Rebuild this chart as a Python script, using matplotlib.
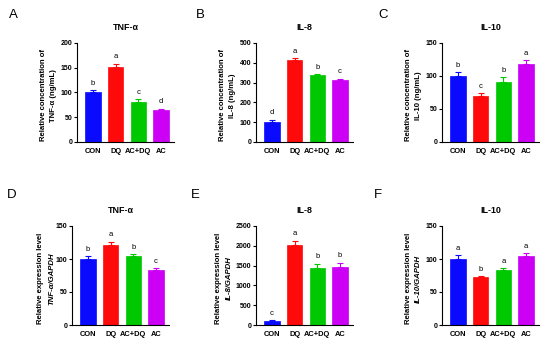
import matplotlib
matplotlib.use('Agg')
import matplotlib.pyplot as plt

plt.rcParams['font.family'] = ['Liberation Sans', 'DejaVu Sans']
plt.rcParams.update({
    'axes.spines.top': False,
    'axes.spines.right': False,
})

groups = ['CON', 'DQ', 'AC+DQ', 'AC']
bar_colors = ['#0a0aff', '#ff0a0a', '#00c800', '#cc00f5']

# panel data (top row: ELISA, bottom row: qPCR)
tnf_conc = [100, 152, 81, 65]
tnf_conc_err = [5, 6, 5, 2]
tnf_conc_sig = ['b', 'a', 'c', 'd']

il8_conc = [100, 415, 337, 315]
il8_conc_err = [13, 8, 4, 4]
il8_conc_sig = ['d', 'a', 'b', 'c']

il10_conc = [100, 69, 91, 118]
il10_conc_err = [6, 5, 7, 6]
il10_conc_sig = ['b', 'c', 'b', 'a']

tnf_expr = [100, 121, 104, 84]
tnf_expr_err = [4, 5, 3, 2]
tnf_expr_sig = ['b', 'a', 'b', 'c']

il8_expr = [90, 2030, 1450, 1470]
il8_expr_err = [25, 100, 100, 100]
il8_expr_sig = ['c', 'a', 'b', 'b']

il10_expr = [100, 72, 83, 105]
il10_expr_err = [6, 2, 3, 4]
il10_expr_sig = ['a', 'b', 'a', 'a']

panels = [
    # letter, title, values, errors, sig, ymax, ystep, ylabel lines, italic,
    # left px, top px, ylabel offset px
    ('A', 'TNF-α', tnf_conc, tnf_conc_err, tnf_conc_sig, 200, 50,
     'Relative concentration of', 'TNF-α (ng/mL)', False, 77, 43, 34),
    ('B', 'IL-8', il8_conc, il8_conc_err, il8_conc_sig, 500, 100,
     'Relative concentration of', 'IL-8 (ng/mL)', False, 256, 43, 34),
    ('C', 'IL-10', il10_conc, il10_conc_err, il10_conc_sig, 150, 50,
     'Relative concentration of', 'IL-10 (ng/mL)', False, 442, 43, 34),
    ('D', 'TNF-α', tnf_expr, tnf_expr_err, tnf_expr_sig, 150, 50,
     'Relative expression level', 'TNF-α/GAPDH', True, 72, 226, 31),
    ('E', 'IL-8', il8_expr, il8_expr_err, il8_expr_sig, 2500, 500,
     'Relative expression level', 'IL-8/GAPDH', True, 256, 226, 37),
    ('F', 'IL-10', il10_expr, il10_expr_err, il10_expr_sig, 150, 50,
     'Relative expression level', 'IL-10/GAPDH', True, 442, 226, 34),
]

W, H = 550, 345
fig = plt.figure(figsize=(5.5, 3.45), dpi=100)

for (letter, title, vals, errs, sig, ymax, ystep, yl1, yl2, italic,
     left, top, yoff) in panels:
    aw, ah = 97, 99
    ax = fig.add_axes([left / W, 1 - (top + ah) / H, aw / W, ah / H])
    x = range(len(groups))
    ax.bar(x, vals, width=0.68, color=bar_colors, edgecolor=bar_colors,
           linewidth=0.5, zorder=2)
    for i in x:
        ax.errorbar(i, vals[i], yerr=[[0], [errs[i]]], color=bar_colors[i],
                    capsize=2.5, elinewidth=0.8, capthick=0.8, zorder=3)
        ax.text(i, vals[i] + errs[i] + ymax * 0.035, sig[i], ha='center',
                va='bottom', fontsize=5.5)
    ax.set_xlim(-0.7, 3.57)
    ax.set_ylim(0, ymax)
    ax.set_yticks(range(0, ymax + 1, ystep))
    ax.set_xticks(list(x))
    ax.set_xticklabels(groups, fontsize=5.4, fontweight='bold')
    for lab in ax.get_yticklabels():
        lab.set_fontsize(5.0)
        lab.set_fontweight('bold')
    ax.tick_params(axis='both', length=2.2, width=0.8, pad=1.2)
    ax.tick_params(axis='x', length=0, pad=4.5)
    for s in ['left', 'bottom']:
        ax.spines[s].set_linewidth(0.8)

    ax.text(0.5, 1.16, title, transform=ax.transAxes, ha='center',
            va='center', fontsize=6.4, fontweight='bold')
    ax.text(-yoff / aw, 0.47, yl1, transform=ax.transAxes, rotation=90,
            ha='center', va='center', fontsize=5.6, fontweight='bold')
    ax.text(-(yoff - 10.5) / aw, 0.47, yl2, transform=ax.transAxes,
            rotation=90, ha='center', va='center', fontsize=5.6,
            fontweight='bold', style='italic' if italic else 'normal')

letter_pos = {'A': (13, 15), 'B': (200, 15), 'C': (383, 15),
              'D': (12, 195), 'E': (195, 195), 'F': (378, 195)}
for k, (px, py) in letter_pos.items():
    fig.text(px / W, 1 - py / H, k, ha='center', va='center', fontsize=9.5)

fig.savefig('out.png', dpi=100)
